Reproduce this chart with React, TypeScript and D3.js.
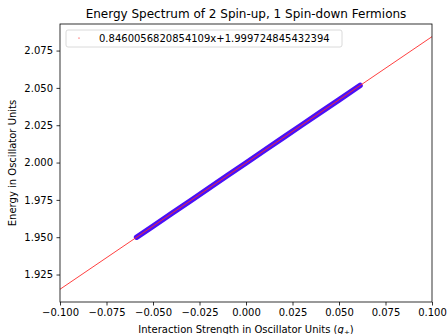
import { useEffect, useRef } from 'react'
import * as d3 from 'd3'

// fit coefficients shown in the legend
const fitSlope = 0.8460056820854109
const fitIntercept = 1.999724845432394
const fitX = [-0.1, 0.1]

const pointX = [-0.0588, -0.05, -0.04, -0.03, -0.02, -0.01, 0.0, 0.01, 0.02, 0.03, 0.04, 0.05, 0.0613]
const pointY = [1.95, 1.9574, 1.9659, 1.9743, 1.9828, 1.9913, 1.9997, 2.0082, 2.0167, 2.0251, 2.0336, 2.042, 2.0516]

const xTicks = [-0.1, -0.075, -0.05, -0.025, 0, 0.025, 0.05, 0.075, 0.1]
const yTicks = [1.925, 1.95, 1.975, 2.0, 2.025, 2.05, 2.075]

export default function App() {
  const svgRef = useRef<SVGSVGElement>(null)

  useEffect(() => {
    if (!svgRef.current) return
    const svg = d3.select(svgRef.current)
    svg.selectAll('*').remove()

    const width = 447
    const height = 334
    const margin = { top: 24, right: 15, bottom: 32, left: 60 }
    const font = 'DejaVu Sans, sans-serif'

    svg.attr('width', width).attr('height', height).style('background', '#fff')

    const x = d3.scaleLinear().domain([-0.1, 0.1]).range([margin.left, width - margin.right])
    const y = d3.scaleLinear().domain([1.9066, 2.0928]).range([height - margin.bottom, margin.top])

    const fmt = (v: number) => d3.format('.3f')(v).replace('-', '\u2212')

    // axes
    const xAxis = svg
      .append('g')
      .attr('transform', `translate(0,${height - margin.bottom})`)
      .call(d3.axisBottom(x).tickValues(xTicks).tickFormat((d) => fmt(+d)).tickSize(3.5).tickPadding(3.5))
    const yAxis = svg
      .append('g')
      .attr('transform', `translate(${margin.left},0)`)
      .call(d3.axisLeft(y).tickValues(yTicks).tickFormat((d) => fmt(+d)).tickSize(3.5).tickPadding(3.5))
    for (const a of [xAxis, yAxis]) {
      a.select('.domain').remove()
      a.selectAll('line').attr('stroke', '#000').attr('stroke-width', 0.8)
      a.selectAll('text').attr('font-family', font).attr('font-size', 10).attr('fill', '#000')
    }

    // measured points, drawn as a thick band
    const pts = pointX.map((v, i) => [v, pointY[i]] as [number, number])
    svg
      .append('path')
      .datum(pts)
      .attr('fill', 'none')
      .attr('stroke', '#4a10f8')
      .attr('stroke-width', 5.5)
      .attr('stroke-linecap', 'round')
      .attr('d', d3.line().x((d) => x(d[0])).y((d) => y(d[1])))

    // fit line
    const fit = fitX.map((v) => [v, fitSlope * v + fitIntercept] as [number, number])
    svg
      .append('path')
      .datum(fit)
      .attr('fill', 'none')
      .attr('stroke', '#ff2a2a')
      .attr('stroke-width', 0.9)
      .attr('d', d3.line().x((d) => x(d[0])).y((d) => y(d[1])))

    // frame
    svg
      .append('rect')
      .attr('x', margin.left)
      .attr('y', margin.top)
      .attr('width', width - margin.left - margin.right)
      .attr('height', height - margin.top - margin.bottom)
      .attr('fill', 'none')
      .attr('stroke', '#000')
      .attr('stroke-width', 0.8)

    // legend
    svg
      .append('rect')
      .attr('x', 66)
      .attr('y', 30)
      .attr('width', 276)
      .attr('height', 17)
      .attr('rx', 2)
      .attr('fill', '#fff')
      .attr('fill-opacity', 0.8)
      .attr('stroke', '#d0d0d0')
      .attr('stroke-width', 0.8)
    svg.append('circle').attr('cx', 79).attr('cy', 38).attr('r', 0.6).attr('fill', '#ff0000')
    svg
      .append('text')
      .attr('x', 99)
      .attr('y', 42)
      .attr('font-family', font)
      .attr('font-size', 10)
      .text(`${fitSlope}x+${fitIntercept}`)

    // title
    svg
      .append('text')
      .attr('x', (margin.left + width - margin.right) / 2)
      .attr('y', 18)
      .attr('text-anchor', 'middle')
      .attr('font-family', font)
      .attr('font-size', 12)
      .text('Energy Spectrum of 2 Spin-up, 1 Spin-down Fermions')

    // y label
    svg
      .append('text')
      .attr('transform', `translate(16,${(margin.top + height - margin.bottom) / 2}) rotate(-90)`)
      .attr('text-anchor', 'middle')
      .attr('font-family', font)
      .attr('font-size', 10)
      .text('Energy in Oscillator Units')

    // x label
    const xl = svg
      .append('text')
      .attr('x', (margin.left + width - margin.right) / 2)
      .attr('y', 333)
      .attr('text-anchor', 'middle')
      .attr('font-family', font)
      .attr('font-size', 10)
    xl.append('tspan').text('Interaction Strength in Oscillator Units (')
    xl.append('tspan').attr('font-style', 'italic').text('g')
    xl.append('tspan').attr('font-size', 7).attr('dy', 2).text('+')
    xl.append('tspan').attr('dy', -2).text(')')
  }, [])

  return (
    <div style={{ position: 'fixed', left: 0, top: 0 }}>
      <svg ref={svgRef}></svg>
    </div>
  )
}
